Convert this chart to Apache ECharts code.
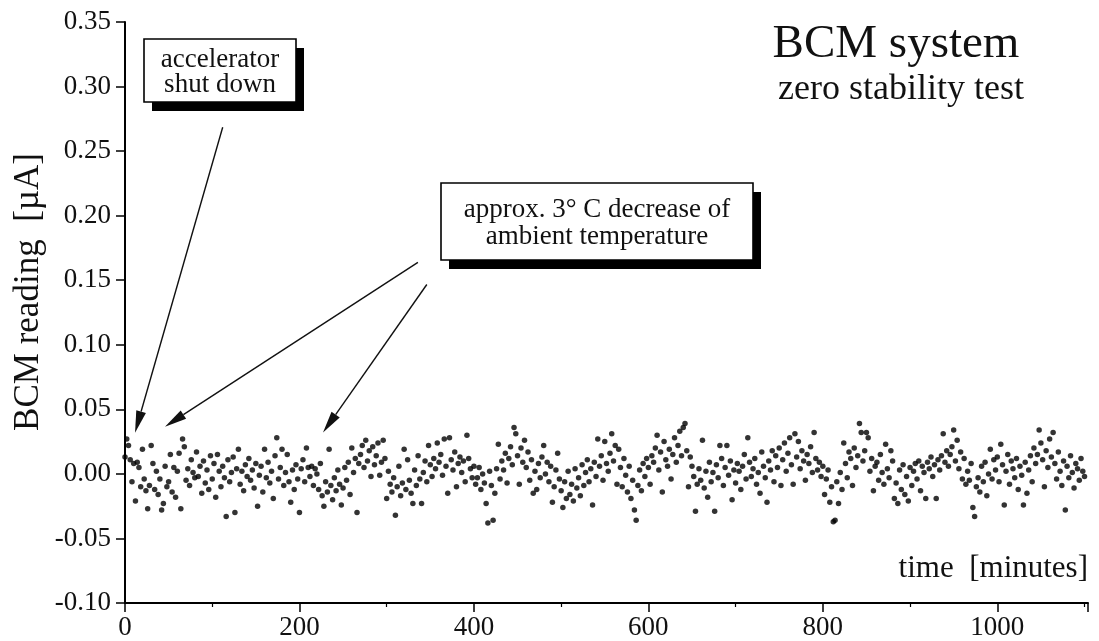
<!DOCTYPE html>
<html><head><meta charset="utf-8">
<script src="https://cdn.jsdelivr.net/npm/echarts@6/dist/echarts.min.js"></script>
<style>html,body{margin:0;padding:0;background:#fff}#c{width:1099px;height:641px}</style>
</head><body><div id="c"></div>
<script>
// sampling grid of the recorded zero readings (minutes)
const sampleStartMinute = 0;
const sampleStepMinutes = 2;
// BCM readings in units of 0.001 µA, one array per 100-minute block
const block0000 = [13,27,22,11,-6,8,-21,9,5,-10,19,-4,-13,-27,-9,22,8,-12,2,-16,-4,-28,-23,6,-10,-6,15,-14,5,-18,2,16,-27,27,21,-5,4,-9,11,1,-3,17,-2,6,-15,10,-7,3,-12,14];
const block0100 = [-4,8,-18,15,2,-10,6,-3,-33,11,-6,1,13,-30,4,19,-8,2,-13,7,-2,12,-5,3,-11,8,-25,-1,6,-14,19,-3,9,-7,2,-19,14,28,-4,5,19,-9,1,15,-6,-22,3,-12,7,-4];
const block0200 = [-30,4,11,-6,20,5,-2,6,-9,4,0,-12,8,-17,-25,-6,-14,19,-9,-20,-3,-13,3,-8,-24,-11,5,-5,9,-16,20,1,12,-30,8,15,22,5,26,10,18,-2,21,7,14,24,-1,9,26,12];
const block0300 = [-19,2,-8,-14,-3,-32,-10,6,-17,-7,19,-12,11,-5,-15,-23,3,-9,14,-4,-23,1,10,-6,22,7,-2,12,4,24,9,15,-1,27,6,-15,28,11,3,17,-10,8,13,1,10,-6,30,12,4,-3];
const block0400 = [6,-8,-3,5,-12,0,-7,-23,-38,2,-9,-36,-15,4,23,-4,10,3,16,-7,12,21,7,36,31,14,-8,20,9,26,5,17,-5,11,-15,2,-12,8,-3,13,22,0,9,-6,6,-22,-10,3,16,-4];
const block0500 = [-13,-26,-6,-19,2,-16,-8,-21,4,-11,-3,-17,7,-9,1,11,-6,4,-24,9,-2,27,6,14,-5,25,8,2,16,31,10,22,-8,19,5,-10,12,-1,-14,6,-19,-5,-28,-36,-9,3,-13,8,-2,12];
const block0600 = [5,-8,14,9,20,30,3,17,-14,25,11,6,19,-4,15,28,9,22,33,14,36,39,18,-10,13,6,-2,-29,-8,4,-5,26,-11,2,-18,9,-6,1,-29,7,-3,22,12,-9,5,22,-1,10,-20,3];
const block0700 = [-7,8,2,-12,6,15,-4,28,9,-2,4,12,-8,1,-15,17,6,-3,-22,10,3,18,-6,14,5,20,-9,11,24,2,16,28,7,-8,31,13,25,4,18,10,-5,15,8,21,1,32,12,3,9,-2];
const block0800 = [6,-16,-4,3,-22,-10,-37,-36,-6,-23,1,-12,24,8,-3,17,12,-9,20,5,14,39,32,10,18,32,28,2,12,-13,6,9,-5,15,1,-8,23,4,-3,18,10,-19,-7,-23,3,-12,7,-16,-2,-21];
const block0900 = [5,-9,2,8,-4,10,-13,6,1,-19,9,4,13,-2,7,-19,11,3,14,31,9,18,6,15,21,34,10,26,4,17,-4,12,-8,2,-5,8,-26,-33,-10,-3,-14,6,-6,9,-17,0,19,-4,11,3];
const block1000 = [13,-6,23,7,-24,2,15,-8,10,4,-3,12,-12,6,-1,-24,9,-15,3,14,-6,20,8,15,34,24,11,-10,18,5,27,13,32,8,-4,17,2,-9,10,-28,6,-3,14,1,-11,8,4,-5,12,2,-2];
const readingBlocks = [block0000,block0100,block0200,block0300,block0400,block0500,block0600,block0700,block0800,block0900,block1000];

// axis ticks
const xTickValues = [0,200,400,600,800,1000];
const yTickLabels = ['-0.10','-0.05','0.00','0.05','0.10','0.15','0.20','0.25','0.30','0.35'];

// annotation arrows (data coordinates: [minute, µA])
const arrowTails = [[112,0.2685],[335.8,0.1638],[346,0.1467]];
const arrowTips  = [[11.5,0.0319],[45.8,0.0366],[227,0.032]];

const points = [];
readingBlocks.flat().forEach((v,i)=>{ points.push([sampleStartMinute + i*sampleStepMinutes, v/1000]); });

const SERIF = '"Liberation Serif","Times New Roman",serif';
const chart = echarts.init(document.getElementById('c'));
const yMin = parseFloat(yTickLabels[0]), yMax = parseFloat(yTickLabels[yTickLabels.length-1]);
const yStep = parseFloat(yTickLabels[1]) - yMin;
const xStep = xTickValues[1]-xTickValues[0];

chart.setOption({
  animation:false,
  backgroundColor:'#fff',
  grid:{left:125,top:22,width:963,height:581,containLabel:false},
  xAxis:{type:'value',min:0,max:1104,interval:xStep,
    axisLine:{show:true,onZero:false,lineStyle:{color:'#000',width:2}},
    axisTick:{show:true,length:9,lineStyle:{color:'#000',width:1.5}},
    minorTick:{show:true,splitNumber:2,length:4,lineStyle:{color:'#000',width:1.2}},
    splitLine:{show:false},
    axisLabel:{color:'#111',fontFamily:SERIF,fontSize:27,margin:11,showMaxLabel:false,
      formatter:v=> xTickValues.includes(v)? String(v):''}
  },
  yAxis:{type:'value',min:yMin,max:yMax,interval:yStep,
    axisLine:{show:true,onZero:false,lineStyle:{color:'#000',width:2}},
    axisTick:{show:true,length:9,lineStyle:{color:'#000',width:1.5}},
    splitLine:{show:false},
    axisLabel:{color:'#111',fontFamily:SERIF,fontSize:27,margin:14,
      formatter:v=>{const s=v.toFixed(2); return s==='-0.00'?'0.00':s;}}
  },
  series:[{type:'scatter',data:points,symbol:'circle',symbolSize:5.5,
    itemStyle:{color:'#000'},silent:true}]
});

const px = p => chart.convertToPixel({gridIndex:0}, p);
const graphics = [];
// titles
graphics.push({type:'text',x:896,y:45,style:{text:'BCM system',font:'47px '+SERIF,fill:'#111',textAlign:'center',textVerticalAlign:'middle',align:'center',verticalAlign:'middle'}});
graphics.push({type:'text',x:901,y:90,style:{text:'zero stability test',font:'36px '+SERIF,fill:'#111',textAlign:'center',textVerticalAlign:'middle',align:'center',verticalAlign:'middle'}});
// axis names
graphics.push({type:'text',x:29,y:292,rotation:Math.PI/2,style:{text:'BCM reading  [µA]',font:'35px '+SERIF,fill:'#111',textAlign:'center',textVerticalAlign:'middle',align:'center',verticalAlign:'middle'}});
graphics.push({type:'text',x:1088,y:569,style:{text:'time  [minutes]',font:'31px '+SERIF,fill:'#111',textAlign:'right',textVerticalAlign:'middle',align:'right',verticalAlign:'middle'}});
// boxes
function box(x,y,w,h,txt,fs,lh){
  graphics.push({type:'rect',shape:{x:x+8,y:y+9,width:w,height:h},style:{fill:'#000'}});
  graphics.push({type:'rect',shape:{x:x,y:y,width:w,height:h},style:{fill:'#fff',stroke:'#000',lineWidth:1.6}});
  graphics.push({type:'text',x:x+w/2,y:y+h/2+2,style:{text:txt,font:fs+'px '+SERIF,lineHeight:lh,fill:'#111',textAlign:'center',textVerticalAlign:'middle',align:'center',verticalAlign:'middle'}});
}
box(144,39,152,63,'accelerator\nshut down',27,25);
box(441,183,312,77,'approx. 3° C decrease of\nambient temperature',27,27);
// arrows
arrowTails.forEach((t,i)=>{
  const a = px(t), b = px(arrowTips[i]);
  const dx=b[0]-a[0], dy=b[1]-a[1], L=Math.hypot(dx,dy), ux=dx/L, uy=dy/L;
  const hl=22, hw=5;
  const bx=b[0]-ux*hl, by=b[1]-uy*hl;
  graphics.push({type:'line',shape:{x1:a[0],y1:a[1],x2:bx,y2:by},style:{stroke:'#111',lineWidth:1.4}});
  graphics.push({type:'polygon',shape:{points:[[b[0],b[1]],[bx-uy*hw,by+ux*hw],[bx+uy*hw,by-ux*hw]]},style:{fill:'#111'}});
});
chart.setOption({graphic:graphics});
</script>
</body></html>
